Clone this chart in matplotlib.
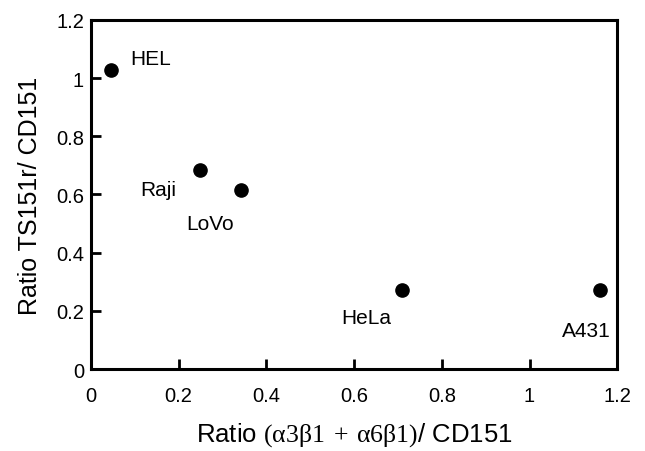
import matplotlib
matplotlib.use("Agg")
import matplotlib.pyplot as plt

# cell lines and their ratios
cells = ["HEL", "Raji", "LoVo", "HeLa", "A431"]
x_ratio = [0.046, 0.249, 0.341, 0.709, 1.161]   # (a3b1 + a6b1)/CD151
y_ratio = [1.026, 0.684, 0.617, 0.272, 0.272]   # TS151r/CD151
label_x = [0.135, 0.153, 0.271, 0.627, 1.129]
label_y = [1.066, 0.616, 0.499, 0.178, 0.132]

plt.rcParams['font.family'] = ['Liberation Sans', 'DejaVu Sans']
plt.rcParams['mathtext.fontset'] = 'custom'
plt.rcParams['mathtext.rm'] = 'Liberation Serif'
plt.rcParams['mathtext.it'] = 'Liberation Serif:italic'

fig = plt.figure(figsize=(6.45, 4.52), dpi=100)
ax = fig.add_axes([0.141, 0.181, 0.816, 0.773])

ax.plot(x_ratio, y_ratio, 'o', color='black', markersize=9.5)
for name, lx, ly in zip(cells, label_x, label_y):
    ax.text(lx, ly, name, fontsize=15, ha='center', va='center')

ax.set_xlim(0, 1.2)
ax.set_ylim(0, 1.2)
ax.set_xticks([0, 0.2, 0.4, 0.6, 0.8, 1, 1.2])
ax.set_xticklabels(["0", "0.2", "0.4", "0.6", "0.8", "1", "1.2"])
ax.set_yticks([0, 0.2, 0.4, 0.6, 0.8, 1, 1.2])
ax.set_yticklabels(["0", "0.2", "0.4", "0.6", "0.8", "1", "1.2"])
ax.tick_params(direction='in', length=7, width=2, labelsize=14.5, top=False, right=False)
ax.tick_params(axis='x', pad=12)
ax.tick_params(axis='y', pad=5)
for s in ax.spines.values():
    s.set_linewidth(2.2)

ax.set_xlabel("Ratio $\\mathrm{(α3β1\\;+\\;α6β1)}$/ CD151", fontsize=18.5, labelpad=11)
ax.set_ylabel("Ratio TS151r/ CD151", fontsize=18, labelpad=10)

fig.savefig("out.png", dpi=100)
